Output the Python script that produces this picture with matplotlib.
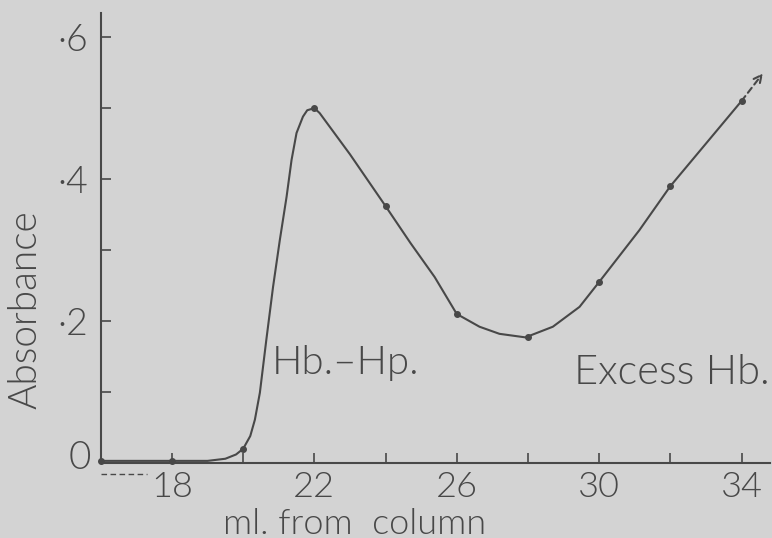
import matplotlib
matplotlib.use("Agg")
import matplotlib.pyplot as plt

# measured points (ml from column, absorbance)
meas_ml = [16, 18, 20, 22, 24, 26, 28, 30, 32, 34]
meas_abs = [0.003, 0.003, 0.02, 0.50, 0.362, 0.21, 0.177, 0.255, 0.39, 0.51]

# hand-drawn curve
curve_ml = [16.0, 19.0, 19.5, 19.8, 20.0, 20.2, 20.33, 20.47, 20.65, 20.84,
            21.03, 21.22, 21.36, 21.5, 21.68, 21.8, 22.0, 22.15, 23.0, 24.0,
            24.7, 25.38, 26.0, 26.64, 27.2, 27.93, 28.7, 29.45, 30.0, 31.13,
            32.0, 33.0, 34.0]
curve_abs = [0.003, 0.003, 0.006, 0.012, 0.02, 0.038, 0.061, 0.099, 0.173, 0.248,
             0.314, 0.375, 0.427, 0.465, 0.488, 0.497, 0.50, 0.493, 0.435, 0.362,
             0.31, 0.262, 0.21, 0.192, 0.182, 0.177, 0.192, 0.22, 0.255, 0.328,
             0.39, 0.45, 0.51]

arrow_start = (34.0, 0.51)
arrow_end = (34.6, 0.549)

ytick_vals = [0.1, 0.2, 0.3, 0.4, 0.5, 0.6]
ytick_text = ["", "·2", "", "·4", "", "·6"]
xtick_vals = [18, 20, 22, 24, 26, 28, 30, 32, 34]
xtick_text = ["18", "", "22", "", "26", "", "30", "", "34"]

bg = "#d3d3d3"
ink = "#484848"
plt.rcParams["font.family"] = ["Lato", "DejaVu Sans"]
plt.rcParams["font.weight"] = 300
font = dict(fontweight=300, color=ink)

fig = plt.figure(figsize=(7.72, 5.38), dpi=100, facecolor=bg)
ax = fig.add_axes([0.1305, 0.1394, 0.8669, 0.8364], facecolor=bg)

ax.plot(curve_ml, curve_abs, color=ink, lw=1.5, clip_on=False)
ax.plot(meas_ml, meas_abs, "o", color=ink, ms=4, clip_on=False)
ax.annotate("", xy=arrow_end, xytext=arrow_start,
            arrowprops=dict(arrowstyle="->", color=ink, lw=1.5, ls=(0, (3, 2)),
                            shrinkA=0, shrinkB=0, mutation_scale=14),
            annotation_clip=False)
# short dashed stroke under the axis at the start
ax.plot([16.0, 17.3], [-0.016, -0.016], color=ink, lw=1.0, ls=(0, (4, 2.5)), clip_on=False)

ax.set_xlim(16, 34.8)
ax.set_ylim(0, 0.634)
for s in ("top", "right"):
    ax.spines[s].set_visible(False)
for s in ("left", "bottom"):
    ax.spines[s].set_color(ink)
    ax.spines[s].set_linewidth(1.5)

ax.set_yticks(ytick_vals)
ax.set_yticklabels(ytick_text)
ax.set_xticks(xtick_vals)
ax.set_xticklabels(xtick_text)
ax.tick_params(direction="in", length=7, width=1.2, color=ink, labelcolor=ink,
               labelsize=27, pad=9)
ax.tick_params(axis="x", labelsize=26, pad=6)
for lab in ax.get_xticklabels() + ax.get_yticklabels():
    lab.set_fontweight(300)
ax.text(-0.014, 0.012, "0", transform=ax.transAxes, ha="right", va="center",
        fontsize=28, **font)

ax.set_xlabel("ml. from  column", fontsize=26, **font)
ax.xaxis.set_label_coords(0.379, -0.1)
ax.set_ylabel("Absorbance", fontsize=28, **font)
ax.yaxis.set_label_coords(-0.085, 0.34)

ax.text(20.81, 0.141, "Hb.–Hp.", fontsize=29, ha="left", va="center", **font)
ax.text(34.8, 0.128, "Excess Hb.", fontsize=30, ha="right", va="center", **font)

fig.savefig("out.png", dpi=100, facecolor=bg)
